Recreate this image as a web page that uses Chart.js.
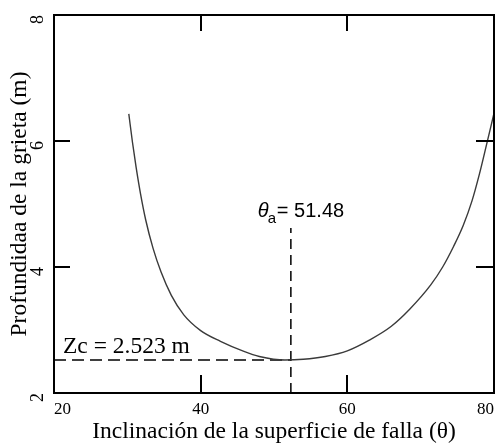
<!DOCTYPE html>
<html>
<head>
<meta charset="utf-8">
<script src="https://cdn.jsdelivr.net/npm/chart.js@4.4.0/dist/chart.umd.min.js"></script>
<style>
  body { margin: 0; background: #fff; }
  #wrap { width: 496px; height: 446px; position: relative; }
</style>
</head>
<body>
<div id="wrap"><canvas id="chart"></canvas></div>
<script>
// ---------------- DATA ----------------
const thetaValues = [30.2, 30.7, 31.2, 31.8, 32.5, 33.5, 34.6, 36.0, 37.7, 40.0, 42.7, 45.9, 48.0, 51.5, 54.0, 57.0, 60.0, 63.0, 66.0, 68.5, 71.4, 73.0, 74.5, 75.8, 77.0, 78.0, 79.0, 80.0];
const depthValues = [6.43, 5.98, 5.58, 5.16, 4.75, 4.30, 3.92, 3.55, 3.24, 2.99, 2.82, 2.66, 2.58, 2.523, 2.535, 2.58, 2.67, 2.84, 3.06, 3.33, 3.72, 4.00, 4.33, 4.66, 5.05, 5.47, 5.95, 6.44];

const thetaLineX = [52.3, 52.3];
const thetaLineY = [2, 4.62];
const zcLineX = [20, 52.3];
const zcLineY = [2.523, 2.523];

const xTicks = [20, 40, 60, 80];
const yTicks = [2, 4, 6, 8];

const thetaLabel = "= 51.48";
const zcLabel = "Zc = 2.523 m";

const toPoints = (xs, ys) => xs.map((x, i) => ({ x: x, y: ys[i] }));

// ---------------- FRAME + INWARD TICKS + NOTES ----------------
const framePlugin = {
    id: "frame",
    afterDraw(chart) {
        const { ctx, chartArea: a, scales } = chart;
        ctx.save();
        ctx.strokeStyle = "#000";
        ctx.lineWidth = 2;
        ctx.strokeRect(a.left, a.top, a.right - a.left, a.bottom - a.top);

        ctx.beginPath();
        xTicks.slice(1, -1).forEach(v => {
            const px = Math.round(scales.x.getPixelForValue(v));
            ctx.moveTo(px, a.top); ctx.lineTo(px, a.top + 16);
            ctx.moveTo(px, a.bottom); ctx.lineTo(px, a.bottom - 18);
        });
        yTicks.slice(1, -1).forEach(v => {
            const py = Math.round(scales.y.getPixelForValue(v));
            ctx.moveTo(a.left, py); ctx.lineTo(a.left + 16, py);
            ctx.moveTo(a.right, py); ctx.lineTo(a.right - 18, py);
        });
        ctx.stroke();

        // theta_a note
        ctx.fillStyle = "#000";
        ctx.textBaseline = "alphabetic";
        const tx = scales.x.getPixelForValue(thetaLineX[0]) - 33;
        const ty = scales.y.getPixelForValue(thetaLineY[1]) - 11;
        ctx.font = "italic 20px 'Liberation Sans'";
        ctx.fillText("\u03b8", tx, ty);
        ctx.font = "15px 'Liberation Sans'";
        ctx.fillText("a", tx + 10, ty + 6);
        ctx.font = "20px 'Liberation Sans'";
        ctx.fillText(thetaLabel, tx + 19, ty);

        // Zc note
        ctx.font = "23.5px 'Liberation Serif'";
        ctx.fillText(zcLabel, scales.x.getPixelForValue(zcLineX[0]) + 9, scales.y.getPixelForValue(zcLineY[0]) - 7);
        ctx.restore();
    }
};

// ---------------- CHART ----------------
new Chart(document.getElementById("chart"), {
    type: "scatter",
    data: {
        datasets: [
            {
                data: toPoints(thetaValues, depthValues),
                showLine: true,
                borderColor: "#3a3a3a",
                borderWidth: 1.4,
                pointRadius: 0,
                cubicInterpolationMode: "monotone"
            },
            {
                data: toPoints(thetaLineX, thetaLineY),
                showLine: true,
                borderColor: "#000",
                borderWidth: 1.5,
                borderDash: [10, 6],
                pointRadius: 0
            },
            {
                data: toPoints(zcLineX, zcLineY),
                showLine: true,
                borderColor: "#000",
                borderWidth: 1.5,
                borderDash: [12, 6],
                pointRadius: 0
            }
        ]
    },
    options: {
        responsive: true,
        maintainAspectRatio: false,
        animation: false,
        layout: { padding: { top: 15, right: 2, bottom: 0, left: 0 } },
        plugins: { legend: { display: false }, tooltip: { enabled: false } },
        scales: {
            x: {
                type: "linear",
                min: 20, max: 80,
                afterBuildTicks: s => { s.ticks = xTicks.map(v => ({ value: v })); },
                afterFit: s => { s.paddingLeft = 0; s.paddingRight = 0; s.height = 53; },
                grid: { display: false, drawTicks: false },
                border: { display: false },
                ticks: { color: "#000", padding: 6, align: "inner", font: { family: "'Liberation Serif'", size: 17 } },
                title: {
                    display: true,
                    text: "Inclinación de la superficie de falla (θ)",
                    color: "#000",
                    padding: { top: -2, bottom: 0 },
                    font: { family: "'Liberation Serif'", size: 23.5 }
                }
            },
            y: {
                type: "linear",
                min: 2, max: 8,
                afterBuildTicks: s => { s.ticks = yTicks.map(v => ({ value: v })); },
                afterFit: s => { s.paddingTop = 0; s.paddingBottom = 0; s.width = 54; },
                grid: { display: false, drawTicks: false },
                border: { display: false },
                ticks: { color: "#000", padding: 16, minRotation: 90, maxRotation: 90, font: { family: "'Liberation Serif'", size: 18 } },
                title: {
                    display: true,
                    text: "Profundidaa de la grieta (m)",
                    color: "#000",
                    padding: { top: 6, bottom: 0 },
                    font: { family: "'Liberation Serif'", size: 23.5 }
                }
            }
        }
    },
    plugins: [framePlugin]
});
</script>
</body>
</html>
